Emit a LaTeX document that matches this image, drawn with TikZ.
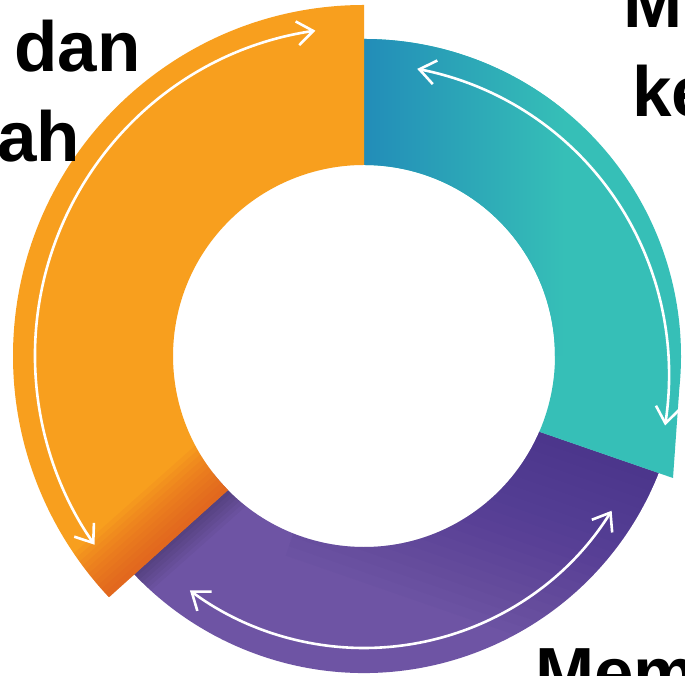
\documentclass[tikz,border=0pt]{standalone}
\usepackage{fontspec}
\setmainfont{Liberation Sans}
\usetikzlibrary{arrows.meta}
\definecolor{orng}{HTML}{F89F1E}
\definecolor{orngdark}{HTML}{D9482A}
\definecolor{tealc}{HTML}{36BFB7}
\definecolor{tealblue}{HTML}{1B7BB8}
\definecolor{purp}{HTML}{6E54A4}
\definecolor{purpdark}{HTML}{3D2A86}
\tikzset{
  flow/.style={draw=white, line width=2.6pt, {Straight Barb[length=16pt,width=24pt]}-{Straight Barb[length=16pt,width=24pt]}},
  txt/.style={font=\fontsize{71}{85}\selectfont\bfseries, anchor=base west, inner sep=0pt, text=black}
}
\begin{document}
\begin{tikzpicture}[x=1pt,y=1pt]
\useasboundingbox (0,0) rectangle (685,676);
\fill[white] (0,0) rectangle (685,676);
\begin{scope}[shift={(364,320)}]
  % purple segment
  \fill[purp] (-23.36:191.7) -- (-21.66:317) arc[start angle=-21.66,end angle=-142,radius=317] -- (-142:191) arc[start angle=-142,end angle=-23.36,radius=191] -- cycle;
  \begin{scope}
    \clip (-23.36:191.7) -- (-21.66:317) arc[start angle=-21.66,end angle=-142,radius=317] -- (-142:191) arc[start angle=-142,end angle=-23.36,radius=191] -- cycle;
    \begin{scope}[shift={(176,-76)}, rotate=-19.08]
      \foreach \d in {10,20,...,200} {\fill[purpdark, opacity=0.045] (-200,-\d) rectangle (300,0);}
    \end{scope}
    \begin{scope}[shift={(-136,-134)}, rotate=41.6]
      \foreach \d in {4,8,...,24} {\fill[black, opacity=0.035] (-300,-\d) rectangle (100,0);}
    \end{scope}
  \end{scope}
  % teal segment
  \fill[tealc] (-23.36:191.7) -- (309,-122) -- (-6:317) arc[start angle=-6,end angle=90,radius=317] -- (90:191) arc[start angle=90,end angle=-23.36,radius=191] -- cycle;
  \begin{scope}
    \clip (-23.36:191.7) -- (309,-122) -- (-6:317) arc[start angle=-6,end angle=90,radius=317] -- (90:191) arc[start angle=90,end angle=-23.36,radius=191] -- cycle;
    \shade[left color=tealblue, right color=tealc] (-70,0) rectangle (200,330);
  \end{scope}
  % orange segment
  \fill[orng] (90:191) -- (90:351) arc[start angle=90,end angle=223.4,radius=351] -- (224.6:191) arc[start angle=224.6,end angle=90,radius=191] -- cycle;
  \begin{scope}
    \clip (90:191) -- (90:351) arc[start angle=90,end angle=223.4,radius=351] -- (224.6:191) arc[start angle=224.6,end angle=90,radius=191] -- cycle;
    \begin{scope}[shift={(-136,-134)}, rotate=41.6]
      \foreach \d in {5,10,...,55} {\fill[orngdark, opacity=0.08] (-300,-50) rectangle (100,\d);}
    \end{scope}
  \end{scope}
  % arrows
  \draw[flow] (98.5:329) arc[start angle=98.5,end angle=215,radius=329];
  \draw[flow] plot[domain=79.5:-13, samples=80, smooth] (\x:{292+17*((79.5-\x)/92.5)^2});
  \draw[flow] (-32:292) arc[start angle=-32,end angle=-126.6,radius=292];
\end{scope}
\node[txt] (t1) at (14,604) {dan};
\node[txt] (t2) at (-3,514) {ah};
\node[txt] (t3) at (623,648) {M};
\node[txt] (t4) at (632,559) {ke};
\node[txt] (t5) at (535,-22) {Mem};
\end{tikzpicture}
\end{document}
